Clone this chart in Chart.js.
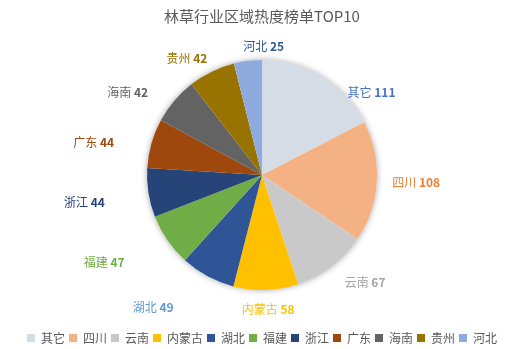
<!DOCTYPE html>
<html>
<head>
<meta charset="utf-8">
<script src="https://cdn.jsdelivr.net/npm/chart.js"></script>
<style>
  html, body { margin: 0; padding: 0; background: #fff; }
  #wrap { width: 524px; height: 349px; }
</style>
</head>
<body>
<div id="wrap"><canvas id="regionPie"></canvas></div>
<script>
    // Region heat ranking data
    const regions = ['其它', '四川', '云南', '内蒙古', '湖北', '福建', '浙江', '广东', '海南', '贵州', '河北'];
    const heatValues = [111, 108, 67, 58, 49, 47, 44, 44, 42, 42, 25];
    const sliceColors = ['#D6DCE5', '#F4B183', '#C9C9C9', '#FFC000', '#2F5597', '#70AD47', '#264478', '#9E480E', '#636363', '#997300', '#8FAADC'];
    const labelColors = ['#4472C4', '#ED7D31', '#A5A5A5', '#FFC000', '#5B9BD5', '#70AD47', '#264478', '#9E480E', '#636363', '#997300', '#2E5C9A'];

    const FONT = '"Noto Sans CJK SC", "Noto Sans", sans-serif';

    // soft shadow under the whole pie, drawn before the slices
    const pieShadow = {
        id: 'pieShadow',
        beforeDatasetsDraw(chart) {
            const arc = chart.getDatasetMeta(0).data[0];
            if (!arc) return;
            const ctx = chart.ctx;
            ctx.save();
            ctx.shadowColor = 'rgba(0,0,0,0.35)';
            ctx.shadowBlur = 6;
            ctx.fillStyle = '#fff';
            ctx.beginPath();
            ctx.arc(arc.x, arc.y, arc.outerRadius, 0, Math.PI * 2);
            ctx.fill();
            ctx.restore();
        }
    };

    // outside labels: "name value", box pushed out from the slice edge
    const outsideLabels = {
        id: 'outsideLabels',
        afterDatasetsDraw(chart) {
            const ctx = chart.ctx;
            const meta = chart.getDatasetMeta(0);
            const gap = 14, h = 12;
            ctx.save();
            ctx.textBaseline = 'middle';
            ctx.textAlign = 'left';
            meta.data.forEach((arc, i) => {
                const mid = (arc.startAngle + arc.endAngle) / 2;
                const c = Math.cos(mid);
                const s = Math.sin(mid);
                const ex = arc.x + c * arc.outerRadius;
                const ey = arc.y + s * arc.outerRadius;
                const name = regions[i] + ' ';
                const num = String(heatValues[i]);
                ctx.font = '12px ' + FONT;
                const w1 = ctx.measureText(name).width;
                ctx.font = 'bold 12px ' + FONT;
                const w2 = ctx.measureText(num).width;
                const w = w1 + w2;
                let cx = ex + c * (gap + w / 2);
                let cy = ey + s * (gap + h / 2);
                if (c < -0.3) {
                    // left side: spread out sideways and slightly downward
                    cx -= c < -0.6 ? 28 + 12 * s : 24 + 16 * s;
                    cy += 5 + 10 * Math.max(0, s);
                } else if (c < 0) {
                    cx += 20;
                    cy += 5;
                } else if (s < 0) {
                    // upper right: slide toward the horizontal
                    cx += 35 * -s;
                    cy += 38 * -s;
                } else {
                    cx += 26 * s * c;
                }
                const x = cx - w / 2;
                ctx.fillStyle = labelColors[i];
                ctx.font = '12px ' + FONT;
                ctx.fillText(name, x, cy);
                ctx.font = 'bold 12px ' + FONT;
                ctx.fillText(num, x + w1, cy);
            });
            ctx.restore();
        }
    };

    const ctx = document.getElementById('regionPie').getContext('2d');
    new Chart(ctx, {
        type: 'pie',
        data: {
            labels: regions,
            datasets: [{
                data: heatValues,
                backgroundColor: sliceColors,
                borderWidth: 0,
                radius: 115
            }]
        },
        options: {
            responsive: true,
            maintainAspectRatio: false,
            animation: false,
            layout: { padding: { top: 0, bottom: -5 } },
            plugins: {
                title: {
                    display: true,
                    text: '林草行业区域热度榜单TOP10',
                    color: '#595959',
                    font: { family: FONT, size: 15, weight: 'normal' },
                    padding: { top: 7, bottom: -3 }
                },
                legend: {
                    position: 'bottom',
                    labels: {
                        color: '#595959',
                        font: { family: FONT, size: 12 },
                        boxWidth: 8,
                        boxHeight: 8,
                        padding: 4
                    }
                },
                tooltip: { enabled: false }
            }
        },
        plugins: [pieShadow, outsideLabels]
    });
</script>
</body>
</html>
